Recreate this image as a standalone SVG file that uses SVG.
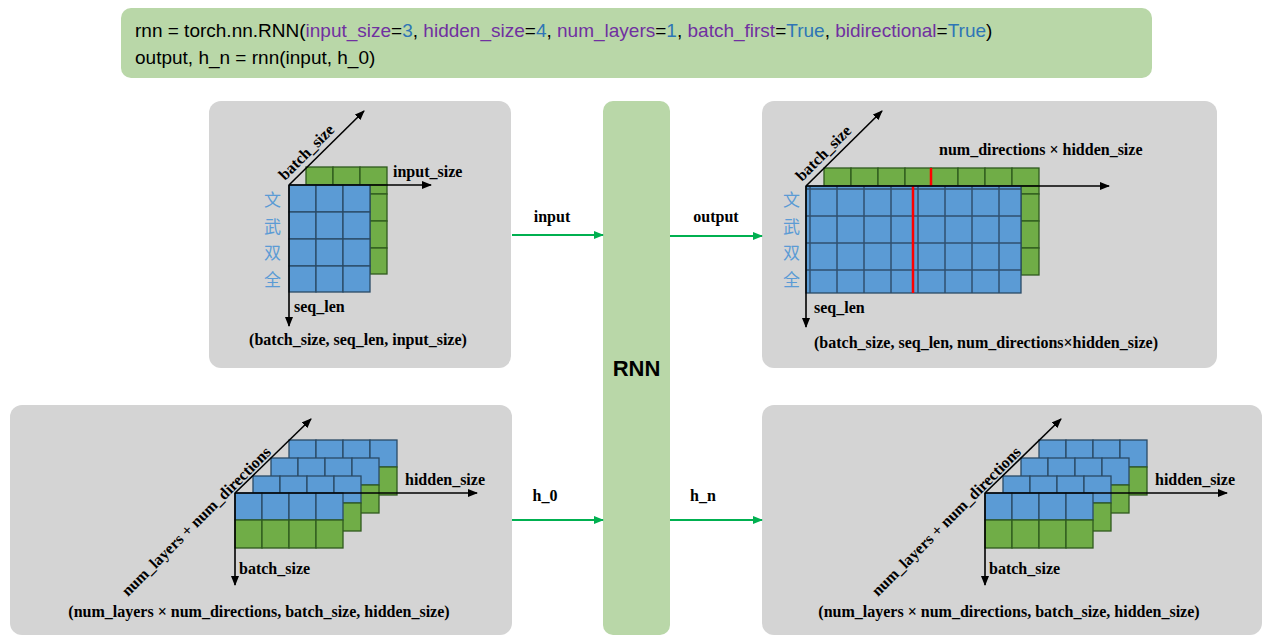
<svg xmlns="http://www.w3.org/2000/svg" width="1269" height="642" viewBox="0 0 1269 642">
<defs>
<marker id="ak" markerWidth="10" markerHeight="8" refX="9" refY="4" orient="auto" markerUnits="userSpaceOnUse"><path d="M0,0 L10,4 L0,8 Z" fill="#000"/></marker>
<marker id="ag" markerWidth="10" markerHeight="8" refX="9" refY="4" orient="auto" markerUnits="userSpaceOnUse"><path d="M0,0 L10,4 L0,8 Z" fill="#00B050"/></marker>
<pattern id="gb" width="27" height="27" patternUnits="userSpaceOnUse"><rect width="27" height="27" fill="#5B9BD5" stroke="#2F4F6F" stroke-width="1.5"/></pattern>
</defs>
<style>
.panel{fill:#D4D4D4}
.b{fill:#5B9BD5;stroke:#2A4A66;stroke-width:1.3}
.g{fill:#70AD47;stroke:#2E5A1E;stroke-width:1.3}
.ax{stroke:#000;stroke-width:1.6;fill:none;marker-end:url(#ak)}
.con{stroke:#00B050;stroke-width:2;fill:none;marker-end:url(#ag)}
.t{font-family:"Liberation Serif",serif;font-weight:bold;font-size:16px;fill:#000}
.cn{font-family:"Noto Sans CJK SC",sans-serif;font-size:17px;fill:#5B9BD5}
.code{font-family:"Liberation Sans",sans-serif;font-size:19px;fill:#000}
.p{fill:#7030A0}.n{fill:#2E75B6}
</style>
<rect x="121" y="8" width="1031" height="70" rx="10" fill="#B9D7A8"/>
<text class="code" x="135" y="37">rnn = torch.nn.RNN(<tspan class="p">input_size</tspan>=<tspan class="n">3</tspan>, <tspan class="p">hidden_size</tspan>=<tspan class="n">4</tspan>, <tspan class="p">num_layers</tspan>=<tspan class="n">1</tspan>, <tspan class="p">batch_first</tspan>=<tspan class="n">True</tspan>, <tspan class="p">bidirectional</tspan>=<tspan class="n">True</tspan>)</text>
<text class="code" x="135" y="64">output, h_n = rnn(input, h_0)</text>

<g id="rnn"><rect x="603" y="101" width="67" height="534" rx="10" fill="#B9D7A8"/>
<text x="636.5" y="376" text-anchor="middle" font-family="Liberation Sans,sans-serif" font-weight="bold" font-size="22">RNN</text></g>

<g id="input-panel">
<rect class="panel" x="209" y="101" width="302" height="267" rx="12"/>
<g class="g"><rect x="306" y="167" width="27" height="18"/><rect x="333" y="167" width="27" height="18"/><rect x="360" y="167" width="27" height="18"/>
<rect x="370" y="185" width="17" height="9"/><rect x="370" y="194" width="17" height="27"/><rect x="370" y="221" width="17" height="27"/><rect x="370" y="248" width="17" height="26"/></g>
<g class="b">
<rect x="289" y="185" width="27" height="27"/><rect x="316" y="185" width="27" height="27"/><rect x="343" y="185" width="27" height="27"/>
<rect x="289" y="212" width="27" height="27"/><rect x="316" y="212" width="27" height="27"/><rect x="343" y="212" width="27" height="27"/>
<rect x="289" y="239" width="27" height="27"/><rect x="316" y="239" width="27" height="27"/><rect x="343" y="239" width="27" height="27"/>
<rect x="289" y="266" width="27" height="26"/><rect x="316" y="266" width="27" height="26"/><rect x="343" y="266" width="27" height="26"/></g>
<path class="ax" d="M289,185 H431"/><path class="ax" d="M289,185 V326"/><path class="ax" d="M289,185 L364,111"/>
<text class="t" transform="translate(285,181) rotate(-45)">batch_size</text>
<text class="t" x="393" y="177">input_size</text>
<text class="t" x="294" y="312">seq_len</text>
<text class="cn" x="264" y="206">文</text><text class="cn" x="264" y="233">武</text><text class="cn" x="264" y="259">双</text><text class="cn" x="264" y="286">全</text>
<text class="t" x="358" y="345" text-anchor="middle">(batch_size, seq_len, input_size)</text>
</g>

<g id="output-panel">
<rect class="panel" x="762" y="101" width="455" height="267" rx="12"/>
<g class="g">
<rect x="824" y="168" width="27" height="18"/><rect x="851" y="168" width="27" height="18"/><rect x="878" y="168" width="27" height="18"/><rect x="905" y="168" width="26" height="18"/><rect x="931" y="168" width="27" height="18"/><rect x="958" y="168" width="27" height="18"/><rect x="985" y="168" width="27" height="18"/><rect x="1012" y="168" width="27" height="18"/>
<rect x="1021" y="186" width="18" height="8"/><rect x="1021" y="194" width="18" height="27"/><rect x="1021" y="221" width="18" height="27"/><rect x="1021" y="248" width="18" height="27"/></g>
<rect x="806" y="186" width="215" height="107" fill="url(#gb)" stroke="#2A4A66" stroke-width="1.3"/>
<path d="M913,186 V293 M931,168 V186" stroke="#FF0000" stroke-width="2.5"/>
<path class="ax" d="M806,186 H1109"/><path class="ax" d="M806,186 V327"/><path class="ax" d="M806,186 L882,111"/>
<text class="t" transform="translate(802,182) rotate(-45)">batch_size</text>
<text class="t" x="939" y="155">num_directions × hidden_size</text>
<text class="t" x="814" y="313">seq_len</text>
<text class="cn" x="783" y="206">文</text><text class="cn" x="783" y="233">武</text><text class="cn" x="783" y="259">双</text><text class="cn" x="783" y="286">全</text>
<text class="t" x="986" y="348" text-anchor="middle">(batch_size, seq_len, num_directions×hidden_size)</text>
</g>

<g id="stack-def">
<defs>
<g id="layer"><g class="b"><rect x="0" y="0" width="27" height="27"/><rect x="27" y="0" width="27" height="27"/><rect x="54" y="0" width="27" height="27"/><rect x="81" y="0" width="27" height="27"/></g>
<g class="g"><rect x="0" y="27" width="27" height="28"/><rect x="27" y="27" width="27" height="28"/><rect x="54" y="27" width="27" height="28"/><rect x="81" y="27" width="27" height="28"/></g></g>
</defs>
</g>

<g id="h0-panel">
<rect class="panel" x="10" y="405" width="502" height="230" rx="12"/>
<use href="#layer" x="289" y="440"/><use href="#layer" x="271" y="458"/><use href="#layer" x="253" y="476"/><use href="#layer" x="235" y="493"/>
<path class="ax" d="M235,493 H477"/><path class="ax" d="M235,493 V585"/><path class="ax" d="M235,493 L311,419"/>
<text class="t" transform="translate(128,597) rotate(-45)">num_layers + num_directions</text>
<text class="t" x="405" y="485">hidden_size</text>
<text class="t" x="239" y="574">batch_size</text>
<text class="t" x="259" y="617" text-anchor="middle">(num_layers × num_directions, batch_size, hidden_size)</text>
</g>

<g id="hn-panel">
<rect class="panel" x="762" y="405" width="500" height="230" rx="12"/>
<use href="#layer" x="1039" y="440"/><use href="#layer" x="1021" y="458"/><use href="#layer" x="1003" y="476"/><use href="#layer" x="985" y="493"/>
<path class="ax" d="M985,493 H1227"/><path class="ax" d="M985,493 V585"/><path class="ax" d="M985,493 L1061,419"/>
<text class="t" transform="translate(878,597) rotate(-45)">num_layers + num_directions</text>
<text class="t" x="1155" y="485">hidden_size</text>
<text class="t" x="989" y="574">batch_size</text>
<text class="t" x="1009" y="617" text-anchor="middle">(num_layers × num_directions, batch_size, hidden_size)</text>
</g>

<g id="connectors">
<path class="con" d="M512,235 H603"/><path class="con" d="M670,236 H762"/>
<path class="con" d="M512,520 H603"/><path class="con" d="M670,520 H762"/>
</g>
<g id="connector-labels">
<text class="t" x="552" y="222" text-anchor="middle">input</text>
<text class="t" x="716" y="222" text-anchor="middle">output</text>
<text class="t" x="545" y="501" text-anchor="middle">h_0</text>
<text class="t" x="703" y="501" text-anchor="middle">h_n</text>
</g>
</svg>
